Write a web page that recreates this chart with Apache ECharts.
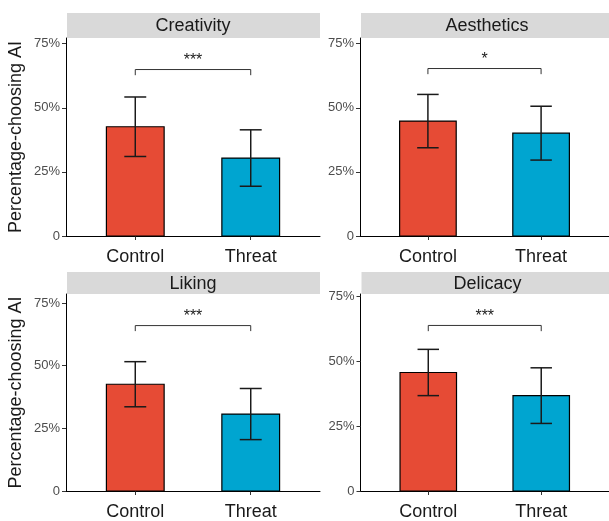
<!DOCTYPE html>
<html>
<head>
<meta charset="utf-8">
<script src="https://cdn.jsdelivr.net/npm/echarts@6/dist/echarts.min.js"></script>
<style>
  html, body { margin: 0; padding: 0; background: #fff; }
  #chart { width: 609px; height: 521px; }
</style>
</head>
<body>
<div id="chart"></div>
<script>
// Share of participants choosing the AI option, by condition, for four judgement facets
const categories = ['Control', 'Threat'];
const facets = ['Creativity', 'Aesthetics', 'Liking', 'Delicacy'];
const controlMean = [42.6, 44.8, 42.6, 45.6];
const controlErr = [11.6, 10.4, 9.0, 8.9];
const threatMean = [30.4, 40.1, 30.7, 36.7];
const threatErr = [11.0, 10.5, 10.2, 10.7];
const significance = ['***', '*', '***', '***'];
const bracketLevel = [64.9, 65.3, 66.0, 63.7];
const yUpper = [77.2, 77.2, 78.6, 75.8];
const yTicks = [0, 25, 50, 75];
const yTitle = 'Percentage-choosing AI';

const FONT = '"Liberation Sans", Arial, Helvetica, sans-serif';
const barColors = ['#E64B35', '#00A5D0'];

// panel placement (px)
const panelBoxes = [
  { left: 66, top: 38, width: 254, height: 198, stripTop: 13 },
  { left: 360, top: 38, width: 254, height: 198, stripTop: 13 },
  { left: 66, top: 294, width: 254, height: 198, stripTop: 272 },
  { left: 360.5, top: 294, width: 254, height: 198, stripTop: 272 }
];

const grids = [], xAxes = [], yAxes = [], series = [], graphics = [];

facets.forEach((name, i) => {
  const b = panelBoxes[i];
  grids.push({ left: b.left, top: b.top, width: b.width, height: b.height, containLabel: false });

  xAxes.push({
    gridIndex: i, type: 'value', min: 0.4, max: 2.6,
    splitLine: { show: false },
    axisLine: { show: true, onZero: false, lineStyle: { color: '#000', width: 1 } },
    axisTick: { show: true, customValues: [1, 2], length: 4, lineStyle: { color: '#333', width: 1 } },
    axisLabel: {
      customValues: [1, 2], margin: 12,
      formatter: v => categories[Math.round(v) - 1],
      color: '#1a1a1a', fontSize: 18, fontFamily: FONT
    }
  });

  yAxes.push({
    gridIndex: i, type: 'value', min: 0, max: yUpper[i], interval: 25,
    splitLine: { show: false },
    axisLine: { show: true, lineStyle: { color: '#000', width: 1 } },
    axisTick: { show: true, customValues: yTicks, length: 4, lineStyle: { color: '#333', width: 1 } },
    axisLabel: {
      customValues: yTicks, margin: 6,
      formatter: v => (v === 0 ? '0' : v + '%'),
      color: '#4d4d4d', fontSize: 13, fontFamily: FONT
    },
    name: (i % 2 === 0) ? yTitle : '',
    nameLocation: 'middle', nameGap: 41,
    nameTextStyle: { fontSize: 18, color: '#1a1a1a', fontFamily: FONT }
  });

  const means = [controlMean[i], threatMean[i]];
  const errs = [controlErr[i], threatErr[i]];

  // bars
  series.push({
    type: 'custom', xAxisIndex: i, yAxisIndex: i,
    data: means.map((m, k) => [k + 1, m]),
    renderItem: (params, api) => {
      const x = api.value(0), y = api.value(1);
      const p1 = api.coord([x - 0.25, y]);
      const p2 = api.coord([x + 0.25, 0]);
      return {
        type: 'rect',
        shape: { x: p1[0], y: p1[1], width: p2[0] - p1[0], height: p2[1] - p1[1] },
        style: { fill: barColors[params.dataIndex], stroke: '#000', lineWidth: 1.2 }
      };
    }
  });

  // error bars
  series.push({
    type: 'custom', xAxisIndex: i, yAxisIndex: i, z: 3,
    data: means.map((m, k) => [k + 1, m - errs[k], m + errs[k]]),
    renderItem: (params, api) => {
      const x = api.value(0), lo = api.value(1), hi = api.value(2);
      const a = api.coord([x, lo]), c = api.coord([x, hi]);
      const l = api.coord([x - 0.095, lo])[0], r = api.coord([x + 0.095, lo])[0];
      const st = { stroke: '#1a1a1a', lineWidth: 1.5 };
      return {
        type: 'group', children: [
          { type: 'line', shape: { x1: a[0], y1: a[1], x2: c[0], y2: c[1] }, style: st },
          { type: 'line', shape: { x1: l, y1: a[1], x2: r, y2: a[1] }, style: st },
          { type: 'line', shape: { x1: l, y1: c[1], x2: r, y2: c[1] }, style: st }
        ]
      };
    }
  });

  // significance bracket
  series.push({
    type: 'custom', xAxisIndex: i, yAxisIndex: i, z: 3,
    data: [[1, 2, bracketLevel[i]]],
    renderItem: (params, api) => {
      const y = api.value(2);
      const pL = api.coord([api.value(0), y]);
      const pR = api.coord([api.value(1), y]);
      const drop = api.size([0, 2.2])[1];
      return {
        type: 'group', children: [
          {
            type: 'polyline',
            shape: { points: [[pL[0], pL[1] + drop], pL, pR, [pR[0], pR[1] + drop]] },
            style: { stroke: '#333', lineWidth: 1, fill: null }
          },
          {
            type: 'text',
            style: {
              x: (pL[0] + pR[0]) / 2, y: pL[1] - 1,
              text: significance[i], align: 'center', verticalAlign: 'bottom',
              fontSize: 16, fontFamily: FONT, fill: '#1a1a1a'
            }
          }
        ]
      };
    }
  });

  // facet strip
  const stripH = b.top - b.stripTop;
  graphics.push({
    type: 'rect', left: b.left + 1, top: b.stripTop, z: 0,
    shape: { width: b.width - 1, height: stripH },
    style: { fill: '#D9D9D9' }
  });
  graphics.push({
    type: 'text', z: 1,
    x: b.left + b.width / 2, y: b.stripTop + stripH / 2 + 1,
    style: {
      text: name, align: 'center', verticalAlign: 'middle',
      fontSize: 18, fontFamily: FONT, fill: '#1a1a1a'
    }
  });
});

const chart = echarts.init(document.getElementById('chart'), null, { renderer: 'canvas' });
chart.setOption({
  backgroundColor: '#fff',
  animation: false,
  grid: grids,
  xAxis: xAxes,
  yAxis: yAxes,
  series: series,
  graphic: graphics
});
</script>
</body>
</html>
